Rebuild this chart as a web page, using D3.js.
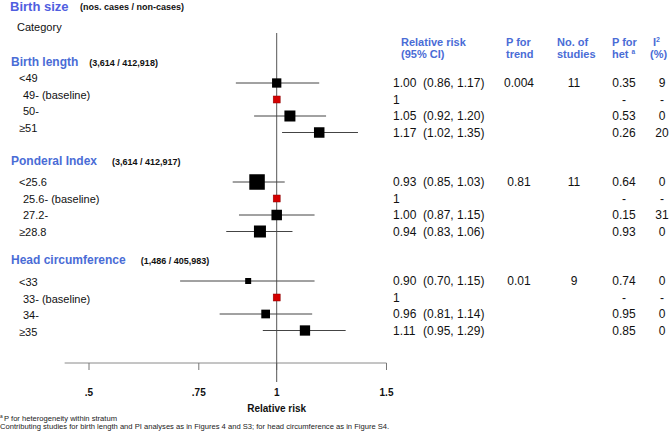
<!DOCTYPE html>
<html><head><meta charset="utf-8">
<script src="https://cdn.jsdelivr.net/npm/d3@7"></script>
<style>body{margin:0;background:#fff}svg{display:block;font-family:"Liberation Sans",Arial,sans-serif}</style>
</head><body><svg id="c" width="670" height="431"></svg>
<script>
const sections = ["Birth length", "Ponderal Index", "Head circumference"];
const sectionCounts = ["(3,614 / 412,918)", "(3,614 / 412,917)", "(1,486 / 405,983)"];
const categories = [
  ["<49", "49- (baseline)", "50-", "≥51"],
  ["<25.6", "25.6- (baseline)", "27.2-", "≥28.8"],
  ["<33", "33- (baseline)", "34-", "≥35"]
];
const rr = [[1.00, 1, 1.05, 1.17], [0.93, 1, 1.00, 0.94], [0.90, 1, 0.96, 1.11]];
const lower = [[0.86, null, 0.92, 1.02], [0.85, null, 0.87, 0.83], [0.70, null, 0.81, 0.95]];
const upper = [[1.17, null, 1.20, 1.35], [1.03, null, 1.15, 1.06], [1.15, null, 1.14, 1.29]];
const boxWeight = [[9.3, 7, 11, 10.5], [15.5, 7, 10.5, 12], [6, 7, 8.7, 10.3]];
const pTrend = ["0.004", "0.81", "0.01"];
const nStudies = ["11", "11", "9"];
const pHet = [["0.35", "-", "0.53", "0.26"], ["0.64", "-", "0.15", "0.93"], ["0.74", "-", "0.95", "0.85"]];
const i2 = [["9", "-", "0", "20"], ["0", "-", "31", "0"], ["0", "-", "0", "0"]];
const xTicks = [0.5, 0.75, 1, 1.5];
const xTickLabels = [".5", ".75", "1", "1.5"];

const svg = d3.select("#c");
const blue = "#4a6cd6";
const x = d3.scaleLog().domain([0.5, 1.5]).range([89, 386.5]);
const size = d3.scaleLinear().domain([0, 16]).range([0, 16]);
const rowY = (s, i) => 83 + s * 99 + i * 16.5;
const labelOffset = [-5, 0, 1];

// Title
svg.append("text").attr("x", 10).attr("y", 10.5).attr("font-size", 13).attr("font-weight", "bold")
  .attr("fill", "#4f5ee0").text("Birth size");
svg.append("text").attr("x", 80).attr("y", 10).attr("font-size", 9).attr("font-weight", "bold")
  .attr("fill", "#111").text("(nos. cases / non-cases)");
svg.append("text").attr("x", 17).attr("y", 31).attr("font-size", 11).attr("fill", "#111").text("Category");

// Right headers
const hdr = svg.append("g").attr("font-size", 11).attr("font-weight", "bold").attr("fill", blue);
hdr.append("text").attr("x", 401).attr("y", 45.5).text("Relative risk");
hdr.append("text").attr("x", 401).attr("y", 58).text("(95% CI)");
hdr.append("text").attr("x", 506).attr("y", 45.5).text("P for");
hdr.append("text").attr("x", 506).attr("y", 58).text("trend");
hdr.append("text").attr("x", 557).attr("y", 45.5).text("No. of");
hdr.append("text").attr("x", 557).attr("y", 58).text("studies");
hdr.append("text").attr("x", 612).attr("y", 45.5).text("P for");
const het = hdr.append("text").attr("x", 612).attr("y", 58);
het.append("tspan").text("het ");
het.append("tspan").attr("font-size", 6.5).attr("dy", -4).text("a");
const ii = hdr.append("text").attr("x", 653).attr("y", 45.5);
ii.append("tspan").text("I");
ii.append("tspan").attr("font-size", 7).attr("dy", -4).text("2");
hdr.append("text").attr("x", 650).attr("y", 58).text("(%)");

// Axis
const ax = svg.append("g");
ax.append("line").attr("x1", x(0.457)).attr("x2", x(1.5)).attr("y1", 363).attr("y2", 363)
  .attr("stroke", "#8a8a8a").attr("stroke-width", 1);
ax.selectAll(".tk").data(xTicks).join("line").attr("x1", d => x(d)).attr("x2", d => x(d))
  .attr("y1", 363).attr("y2", 370).attr("stroke", "#777");
ax.selectAll(".tl").data(xTicks).join("text").attr("x", d => x(d)).attr("y", 396)
  .attr("text-anchor", "middle").attr("font-size", 10).attr("font-weight", "bold").attr("fill", "#111")
  .text((d, i) => xTickLabels[i]);
ax.append("text").attr("x", x(1)).attr("y", 412).attr("text-anchor", "middle").attr("font-size", 10)
  .attr("font-weight", "bold").attr("fill", "#111").text("Relative risk");
svg.append("line").attr("x1", x(1)).attr("x2", x(1)).attr("y1", 33).attr("y2", 382)
  .attr("stroke", "#555").attr("stroke-width", 1);

sections.forEach((name, s) => {
  const hy = rowY(s, 0) - 21;
  const t = svg.append("text").attr("x", 11).attr("y", hy + 4.3).attr("font-size", 12)
    .attr("font-weight", "bold").attr("fill", blue).text(name);
  const w = t.node().getComputedTextLength();
  svg.append("text").attr("x", 11 + w + (s === 0 ? 11 : 15)).attr("y", hy + 3.5).attr("font-size", 9)
    .attr("font-weight", "bold").attr("fill", "#111").text(sectionCounts[s]);

  categories[s].forEach((cat, i) => {
    const y = rowY(s, i);
    const lx = (cat[0] === "<" || cat[0] === "≥") ? 19 : 23;
    svg.append("text").attr("x", lx).attr("y", y + labelOffset[s] + 4).attr("font-size", 11)
      .attr("fill", "#111").text(cat);
    if (lower[s][i] !== null) {
      svg.append("line").attr("x1", x(lower[s][i])).attr("x2", x(upper[s][i]))
        .attr("y1", y).attr("y2", y).attr("stroke", "#444").attr("stroke-width", 1);
    }
    const b = size(boxWeight[s][i]);
    const base = lower[s][i] === null;
    svg.append("rect").attr("x", x(rr[s][i]) - b / 2).attr("y", y - b / 2).attr("width", b).attr("height", b)
      .attr("fill", base ? "#d40000" : "#000").attr("stroke", base ? "#8a0000" : "none").attr("stroke-width", 0.5);

    const vy = y + 4.3;
    const g = svg.append("g").attr("font-size", 12).attr("fill", "#111");
    if (base) {
      g.append("text").attr("x", 393).attr("y", vy).text("1");
    } else {
      g.append("text").attr("x", 393).attr("y", vy).text(rr[s][i].toFixed(2));
      g.append("text").attr("x", 423).attr("y", vy)
        .text("(" + lower[s][i].toFixed(2) + ", " + upper[s][i].toFixed(2) + ")");
    }
    if (i === 0) {
      g.append("text").attr("x", 519).attr("y", vy).attr("text-anchor", "middle").text(pTrend[s]);
      g.append("text").attr("x", 574).attr("y", vy).attr("text-anchor", "middle").text(nStudies[s]);
    }
    g.append("text").attr("x", 624).attr("y", vy).attr("text-anchor", "middle").text(pHet[s][i]);
    g.append("text").attr("x", 662).attr("y", vy).attr("text-anchor", "middle").text(i2[s][i]);
  });
});

// Footnotes
svg.append("text").attr("x", 0).attr("y", 418).attr("font-size", 4.8).attr("fill", "#222").text("a");
svg.append("text").attr("x", 4).attr("y", 421).attr("font-size", 7.6).attr("fill", "#222")
  .text("P for heterogeneity within stratum");
svg.append("text").attr("x", 0).attr("y", 429).attr("font-size", 7.6).attr("fill", "#222")
  .text("Contributing studies for birth length and PI analyses as in Figures 4 and S3; for head circumference as in Figure S4.");
</script></body></html>
